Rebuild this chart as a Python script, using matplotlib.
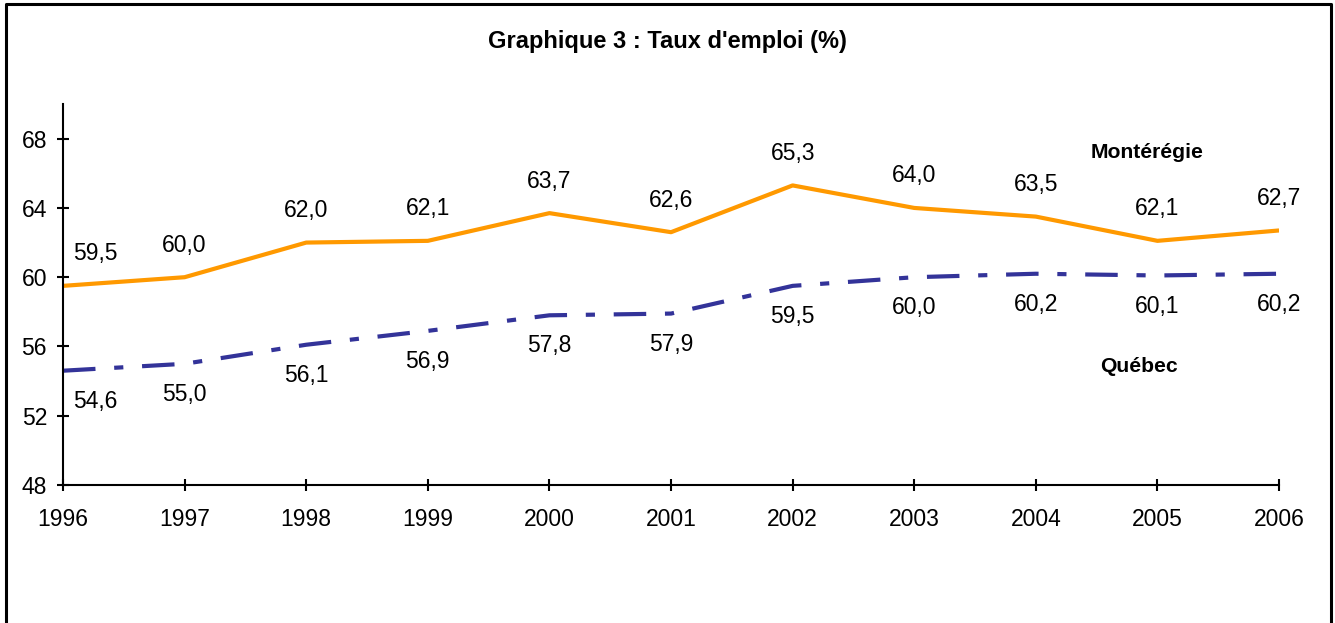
import numpy as np
import matplotlib.pyplot as plt
from matplotlib.lines import Line2D

plt.rcParams['font.family'] = ['Liberation Sans', 'DejaVu Sans']

annees = [1996, 1997, 1998, 1999, 2000, 2001, 2002, 2003, 2004, 2005, 2006]
monteregie = [59.5, 60.0, 62.0, 62.1, 63.7, 62.6, 65.3, 64.0, 63.5, 62.1, 62.7]
quebec = [54.6, 55.0, 56.1, 56.9, 57.8, 57.9, 59.5, 60.0, 60.2, 60.1, 60.2]
yticks = [48, 52, 56, 60, 64, 68]

def fmt(v):
    return ('%.1f' % v).replace('.', ',')

fig = plt.figure(figsize=(13.35, 6.23), dpi=100)
ax = fig.add_axes([0.0472, 0.2215, 0.9109, 0.6115])

ax.plot(annees, monteregie, color='#FF9900', lw=3, solid_capstyle='butt')
ax.plot(annees, quebec, color='#333399', lw=3, dashes=(7.8, 4.5, 2.2, 4.5), dash_capstyle='butt')

for i, (a, m, q) in enumerate(zip(annees, monteregie, quebec)):
    dx = 23 if i == 0 else 0
    ax.annotate(fmt(m), (a, m), xytext=(dx, 23), textcoords='offset points',
                ha='center', va='center', fontsize=16.5)
    ax.annotate(fmt(q), (a, q), xytext=(dx, -22), textcoords='offset points',
                ha='center', va='center', fontsize=16.5)

ax.set_xlim(annees[0], annees[-1])
ax.set_ylim(48, 70)
ax.set_xticks(annees)
ax.set_yticks(yticks)
ax.tick_params(axis='both', direction='inout', length=9, width=1.5, labelsize=16.5)
ax.tick_params(axis='x', pad=12)
ax.tick_params(axis='y', pad=7)
for s in ['top', 'right']:
    ax.spines[s].set_visible(False)
for s in ['left', 'bottom']:
    ax.spines[s].set_linewidth(1.5)

fig.text(0.5, 0.934, "Graphique 3 : Taux d'emploi (%)", ha='center', va='center',
         fontsize=17, fontweight='bold')
fig.text(0.859, 0.756, 'Montérégie', ha='center', va='center', fontsize=15.2, fontweight='bold')
fig.text(0.853, 0.411, 'Québec', ha='center', va='center', fontsize=15.2, fontweight='bold')

# cadre
x0, x1 = 6 / 1335, 1331 / 1335
y1 = 1 - 4 / 623
fig.add_artist(Line2D([x0, x0, x1, x1], [0, y1, y1, 0], transform=fig.transFigure,
                      color='black', lw=2.2))

fig.savefig('out.png', dpi=100)
